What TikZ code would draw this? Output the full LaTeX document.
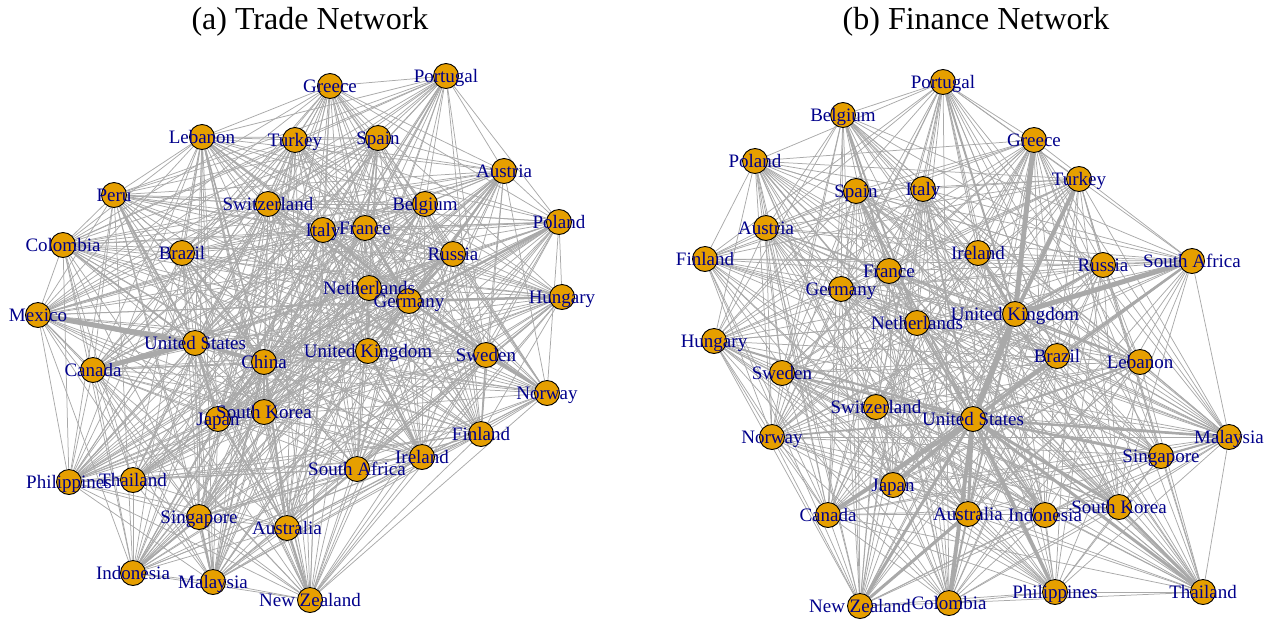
\documentclass[tikz,border=0pt]{standalone}
\usepackage{fontspec}
\setmainfont{Liberation Serif}
\pgfdeclarelayer{background}
\pgfsetlayers{background,main}
\definecolor{edgecol}{RGB}{169,169,169}
\definecolor{vcol}{RGB}{230,159,0}
\definecolor{lcol}{RGB}{0,0,139}
\begin{document}
\begin{tikzpicture}[x=1pt,y=-1pt,
  vert/.style={circle,draw=black,line width=0.9pt,fill=vcol,minimum size=25pt,inner sep=0pt},
  lab/.style={text=lcol,font=\fontsize{19}{19}\selectfont,inner sep=0pt,text height=12.6pt,text depth=0pt},
  ttl/.style={font=\fontsize{32}{32}\selectfont,anchor=base,inner sep=0pt},
  edge/.style={draw=edgecol,line width=0.75pt},
  heavy/.style={draw=edgecol,line width=#1}]
\useasboundingbox (0,0) rectangle (1279,619);
\node[ttl] (ta) at (310,29) {(a) Trade Network};
\node[ttl] (tb) at (976,29) {(b) Finance Network};
% ---------- Trade network vertices
\foreach \id/\x/\y in {tGRC/330/86, tPRT/446/76, tLBN/202/137, tTUR/295/140, tESP/378/138,
  tAUT/504/171, tPER/114/195, tCHE/268/204, tBEL/425/204, tITA/323/230, tFRA/365/228,
  tPOL/559/222, tCOL/63/245, tBRA/182/253, tRUS/453/254, tNLD/369/288, tDEU/409/301,
  tHUN/562/297, tMEX/38/315, tUSA/195/343, tCHN/264/362, tGBR/368/351, tSWE/486/355,
  tCAN/93/370, tNOR/547/393, tKOR/264/412, tJPN/218/419, tFIN/481/434, tIRL/422/457,
  tZAF/357/469, tPHL/69/482, tTHA/133/480, tSGP/199/517, tAUS/287/528, tIDN/133/573,
  tMYS/213/582, tNZL/310/600}
  \node[vert] (\id) at (\x,\y) {};
% ---------- Finance network vertices
\foreach \id/\x/\y in {fPRT/943/82, fBEL/843/115, fGRC/1034/140, fPOL/755/161, fTUR/1079/179,
  fESP/856/191, fITA/923/189, fAUT/766/228, fIRL/978/253, fFIN/705/259, fZAF/1192/261,
  fRUS/1103/265, fFRA/889/271, fDEU/841/289, fGBR/1015/314, fNLD/917/323, fHUN/714/341,
  fBRA/1057/356, fLBN/1140/362, fSWE/782/373, fCHE/876/407, fUSA/973/419, fNOR/772/437,
  fMYS/1229/437, fSGP/1161/456, fJPN/893/485, fKOR/1119/507, fCAN/828/515, fAUS/968/514,
  fIDN/1045/515, fTHA/1203/592, fPHL/1055/592, fNZL/860/606, fCOL/949/603}
  \node[vert] (\id) at (\x,\y) {};
\def\tlist{tGRC,tPRT,tLBN,tTUR,tESP,tAUT,tPER,tCHE,tBEL,tITA,tFRA,tPOL,tCOL,tBRA,tRUS,tNLD,tDEU,tHUN,tMEX,tUSA,tCHN,tGBR,tSWE,tCAN,tNOR,tKOR,tJPN,tFIN,tIRL,tZAF,tPHL,tTHA,tSGP,tAUS,tIDN,tMYS,tNZL}
\def\flist{fPRT,fBEL,fGRC,fPOL,fTUR,fESP,fITA,fAUT,fIRL,fFIN,fZAF,fRUS,fFRA,fDEU,fGBR,fNLD,fHUN,fBRA,fLBN,fSWE,fCHE,fUSA,fNOR,fMYS,fSGP,fJPN,fKOR,fCAN,fAUS,fIDN,fTHA,fPHL,fNZL,fCOL}
\begin{pgfonlayer}{background}
\foreach \a [count=\i] in \tlist {
  \foreach \b [count=\j] in \tlist {
    \ifnum\j>\i
      \pgfmathtruncatemacro\h{mod(mod(\i*\i,97)*13+mod(\j*\j,97)*7+mod(\i*\j,97)*29+\i*3+\j,97)}
      \ifnum\h<84 \draw[edge] (\a) -- (\b); \fi
    \fi
  }
}
\foreach \a [count=\i] in \flist {
  \foreach \b [count=\j] in \flist {
    \ifnum\j>\i
      \pgfmathtruncatemacro\h{mod(mod(\i*\i,89)*11+mod(\j*\j,89)*5+mod(\i*\j,89)*23+\i*7+\j*3,89)}
      \ifnum\h<67 \draw[edge] (\a) -- (\b); \fi
    \fi
  }
}
% heavy trade links
\foreach \a/\b/\w in {tUSA/tMEX/5pt, tUSA/tCAN/5pt, tUSA/tCHN/3.5pt, tUSA/tJPN/2.5pt,
  tCHN/tJPN/2.5pt, tCHN/tKOR/2.5pt, tDEU/tFRA/2.5pt, tDEU/tNLD/2.5pt, tDEU/tHUN/2.5pt,
  tDEU/tPOL/2.5pt, tDEU/tAUT/2pt, tGBR/tIRL/2.5pt, tNOR/tSWE/1.8pt, tNOR/tDEU/2pt,
  tAUS/tNZL/2.5pt, tSGP/tMYS/2pt, tPER/tUSA/1.8pt, tCOL/tUSA/1.8pt, tBRA/tCHN/1.8pt,
  tRUS/tDEU/2pt, tCHE/tDEU/1.8pt, tAUS/tCHN/2pt, tAUS/tJPN/1.5pt, tIDN/tSGP/1.8pt,
  tTHA/tJPN/1.5pt, tLBN/tCHN/1.5pt, tRUS/tCHN/1.8pt, tGBR/tDEU/2pt, tITA/tDEU/2pt,
  tESP/tFRA/1.8pt, tKOR/tJPN/1.8pt, tMYS/tCHN/1.5pt, tFIN/tSWE/1.5pt}
  \draw[heavy=\w] (\a) -- (\b);
% heavy finance links
\foreach \a/\b/\w in {fUSA/fGBR/6pt, fUSA/fCAN/4pt, fUSA/fJPN/3.5pt, fUSA/fAUS/3pt,
  fUSA/fCOL/4pt, fUSA/fNZL/3pt, fUSA/fPHL/3.5pt, fUSA/fTHA/3pt, fUSA/fKOR/3pt,
  fUSA/fSGP/2.5pt, fUSA/fMYS/2.5pt, fUSA/fBRA/2.5pt, fUSA/fLBN/2pt, fUSA/fIDN/2pt,
  fUSA/fCHE/2pt, fUSA/fNLD/2pt, fUSA/fZAF/2.5pt, fGBR/fGRC/5pt, fGBR/fTUR/4pt,
  fGBR/fZAF/5pt, fGBR/fRUS/2pt, fGBR/fIRL/2.5pt, fGBR/fPRT/2pt, fGBR/fAUS/2pt,
  fAUS/fNZL/3pt, fKOR/fTHA/2.5pt, fHUN/fUSA/2pt, fSWE/fUSA/2pt, fNOR/fUSA/1.8pt,
  fBEL/fNLD/1.8pt, fBEL/fFRA/1.8pt, fESP/fUSA/1.8pt, fITA/fUSA/1.8pt, fMYS/fSGP/2pt,
  fPOL/fUSA/1.5pt, fGBR/fLBN/1.8pt, fAUS/fCOL/2pt}
  \draw[heavy=\w] (\a) -- (\b);
\end{pgfonlayer}
% ---------- labels
\foreach \id/\t in {tGRC/Greece, tPRT/Portugal, tLBN/Lebanon, tTUR/Turkey, tESP/Spain,
  tAUT/Austria, tPER/Peru, tCHE/Switzerland, tBEL/Belgium, tITA/Italy, tFRA/France,
  tPOL/Poland, tCOL/Colombia, tBRA/Brazil, tRUS/Russia, tNLD/Netherlands, tDEU/Germany,
  tHUN/Hungary, tMEX/Mexico, tUSA/United States, tCHN/China, tGBR/United Kingdom,
  tSWE/Sweden, tCAN/Canada, tNOR/Norway, tKOR/South Korea, tJPN/Japan, tFIN/Finland,
  tIRL/Ireland, tZAF/South Africa, tPHL/Philippines, tTHA/Thailand, tSGP/Singapore,
  tAUS/Australia, tIDN/Indonesia, tMYS/Malaysia, tNZL/New Zealand,
  fPRT/Portugal, fBEL/Belgium, fGRC/Greece, fPOL/Poland, fTUR/Turkey, fESP/Spain,
  fITA/Italy, fAUT/Austria, fIRL/Ireland, fFIN/Finland, fZAF/South Africa, fRUS/Russia,
  fFRA/France, fDEU/Germany, fGBR/United Kingdom, fNLD/Netherlands, fHUN/Hungary,
  fBRA/Brazil, fLBN/Lebanon, fSWE/Sweden, fCHE/Switzerland, fUSA/United States,
  fNOR/Norway, fMYS/Malaysia, fSGP/Singapore, fJPN/Japan, fKOR/South Korea,
  fCAN/Canada, fAUS/Australia, fIDN/Indonesia, fTHA/Thailand, fPHL/Philippines,
  fNZL/New Zealand, fCOL/Colombia}
  \node[lab] (\id-l) at (\id) {\t};
\end{tikzpicture}
\end{document}
